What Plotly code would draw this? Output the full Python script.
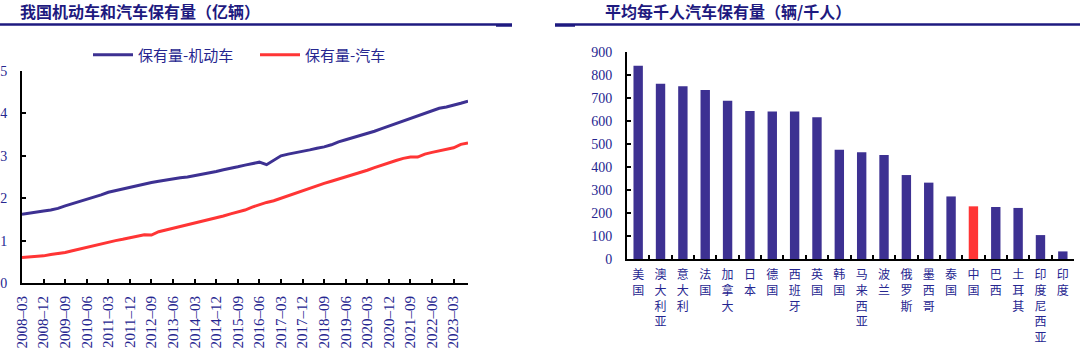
import plotly.graph_objects as go
import pandas as pd

# ---------------- data: left chart (quarterly, 亿辆) ----------------
quarters = list(pd.date_range("2008-03-01", "2023-09-01", freq="3MS").strftime("%Y-%m"))

motor_vehicles = [
    1.62, 1.65, 1.67, 1.70, 1.72, 1.76, 1.82, 1.87, 1.93, 1.98,
    2.02, 2.08, 2.14, 2.18, 2.21, 2.26, 2.30, 2.34, 2.37, 2.40,
    2.43, 2.45, 2.48, 2.50, 2.53, 2.57, 2.60, 2.63, 2.67, 2.70,
    2.74, 2.78, 2.82, 2.85, 2.79, 2.90, 3.00, 3.04, 3.07, 3.10,
    3.14, 3.18, 3.21, 3.26, 3.33, 3.38, 3.43, 3.47, 3.52, 3.58,
    3.64, 3.70, 3.76, 3.83, 3.89, 3.95, 4.01, 4.07, 4.12, 4.15,
    4.19, 4.24, 4.29,
]
cars = [
    0.60, 0.61, 0.63, 0.64, 0.67, 0.69, 0.72, 0.76, 0.80, 0.84,
    0.89, 0.93, 0.97, 1.00, 1.03, 1.07, 1.11, 1.14, 1.13, 1.21,
    1.25, 1.29, 1.33, 1.37, 1.41, 1.45, 1.49, 1.54, 1.58, 1.63,
    1.67, 1.72, 1.79, 1.85, 1.90, 1.94, 2.00, 2.05, 2.11, 2.17,
    2.23, 2.29, 2.35, 2.40, 2.45, 2.51, 2.56, 2.61, 2.66, 2.72,
    2.78, 2.84, 2.89, 2.94, 2.97, 2.97, 3.04, 3.08, 3.12, 3.16,
    3.19, 3.27, 3.30,
]
x_tick_labels = [
    "2008-03", "2008-12", "2009-09", "2010-06", "2011-03", "2011-12", "2012-09",
    "2013-06", "2014-03", "2014-12", "2015-09", "2016-06", "2017-03", "2017-12",
    "2018-09", "2019-06", "2020-03", "2020-12", "2021-09", "2022-06", "2023-03",
]
series_names = ["保有量-机动车", "保有量-汽车"]

# ---------------- data: right chart (辆/千人) ----------------
countries = [
    "美国", "澳大利亚", "意大利", "法国", "加拿大", "日本", "德国", "西班牙", "英国", "韩国",
    "马来西亚", "波兰", "俄罗斯", "墨西哥", "泰国", "中国", "巴西", "土耳其", "印度尼西亚", "印度",
]
cars_per_1000 = [
    840, 762, 751, 735, 688, 643, 641, 641, 616, 475,
    464, 452, 365, 332, 272, 229, 226, 222, 104, 33,
]

# ---------------- styles ----------------
NAVY = "#3D3192"
RED = "#FF3535"
TXT = "#262690"
TITLE = "#1E1A80"
SERIF = "Liberation Serif"
CJK = "Noto Sans CJK SC"

fig = go.Figure()

fig.add_trace(go.Scatter(x=quarters, y=motor_vehicles, mode="lines", name=series_names[0],
                         line=dict(color=NAVY, width=3), xaxis="x", yaxis="y"))
fig.add_trace(go.Scatter(x=quarters, y=cars, mode="lines", name=series_names[1],
                         line=dict(color=RED, width=3), xaxis="x", yaxis="y"))

bar_colors = [RED if c == "中国" else NAVY for c in countries]
fig.add_trace(go.Bar(x=countries, y=cars_per_1000, marker=dict(color=bar_colors, line=dict(width=0)),
                     width=0.42, showlegend=False, xaxis="x2", yaxis="y2"))

W, H = 1080, 354

def px_x(v):
    return v / W

def px_y(v):
    return 1 - v / H

axis_common = dict(showline=True, linecolor="black", linewidth=2, ticks="inside", ticklen=4,
                   tickcolor="black", tickwidth=1.5, showgrid=False, zeroline=False, automargin=False)

fig.update_layout(
    width=W, height=H, margin=dict(l=0, r=0, t=0, b=0),
    paper_bgcolor="white", plot_bgcolor="white",
    showlegend=True,
    legend=dict(orientation="h", x=px_x(88), y=px_y(55), xanchor="left", yanchor="middle",
                font=dict(family=CJK, size=15, color=TXT), bgcolor="rgba(0,0,0,0)",
                entrywidth=112, entrywidthmode="pixels", itemwidth=40),
    xaxis=dict(domain=[px_x(22), px_x(468)], type="category", range=[0, len(quarters) - 1],
               tickmode="array", tickvals=x_tick_labels, ticktext=[t.replace("-", "–") for t in x_tick_labels],
               tickangle=-90, tickfont=dict(family=SERIF, size=15, color=TXT),
               ticklabelstandoff=5, **axis_common),
    yaxis=dict(domain=[px_y(283), px_y(71)], range=[0, 5], dtick=1, anchor="x",
               tickfont=dict(family=SERIF, size=14, color=TXT), ticklabelstandoff=10, **axis_common),
    xaxis2=dict(domain=[px_x(627), px_x(1074)], type="category", range=[-0.5, len(countries) - 0.5],
                tickmode="array", tickvals=countries, ticktext=["<br>".join(c) for c in countries],
                tickson="boundaries", tickangle=0, anchor="y2",
                tickfont=dict(family=CJK, size=12, color=TXT), ticklabelstandoff=4, **axis_common),
    yaxis2=dict(domain=[px_y(259), px_y(52)], range=[0, 900], dtick=100, anchor="x2",
                tickfont=dict(family=SERIF, size=14, color=TXT), ticklabelstandoff=10, **axis_common),
    bargap=0.58,
)

# titles
fig.add_annotation(text="<b>我国机动车和汽车保有量（亿辆）</b>", xref="paper", yref="paper",
                   x=px_x(18), y=px_y(11), xanchor="left", yanchor="middle", showarrow=False,
                   font=dict(family=CJK, size=16, color=TITLE))
fig.add_annotation(text="<b>平均每千人汽车保有量（辆/千人）</b>", xref="paper", yref="paper",
                   x=px_x(603), y=px_y(11), xanchor="left", yanchor="middle", showarrow=False,
                   font=dict(family=CJK, size=16, color=TITLE))

# title underlines
fig.add_shape(type="line", xref="paper", yref="paper", x0=0, x1=px_x(512), y0=px_y(24.5), y1=px_y(24.5),
              line=dict(color=TITLE, width=2.5))
fig.add_shape(type="line", xref="paper", yref="paper", x0=px_x(496), x1=px_x(512), y0=px_y(25.5), y1=px_y(25.5),
              line=dict(color=TITLE, width=2.5))
fig.add_shape(type="line", xref="paper", yref="paper", x0=px_x(555), x1=1, y0=px_y(24.5), y1=px_y(24.5),
              line=dict(color=TITLE, width=2.5))
fig.add_shape(type="line", xref="paper", yref="paper", x0=px_x(555), x1=px_x(575), y0=px_y(25.5), y1=px_y(25.5),
              line=dict(color=TITLE, width=2.5))

fig.write_html("out.html")
